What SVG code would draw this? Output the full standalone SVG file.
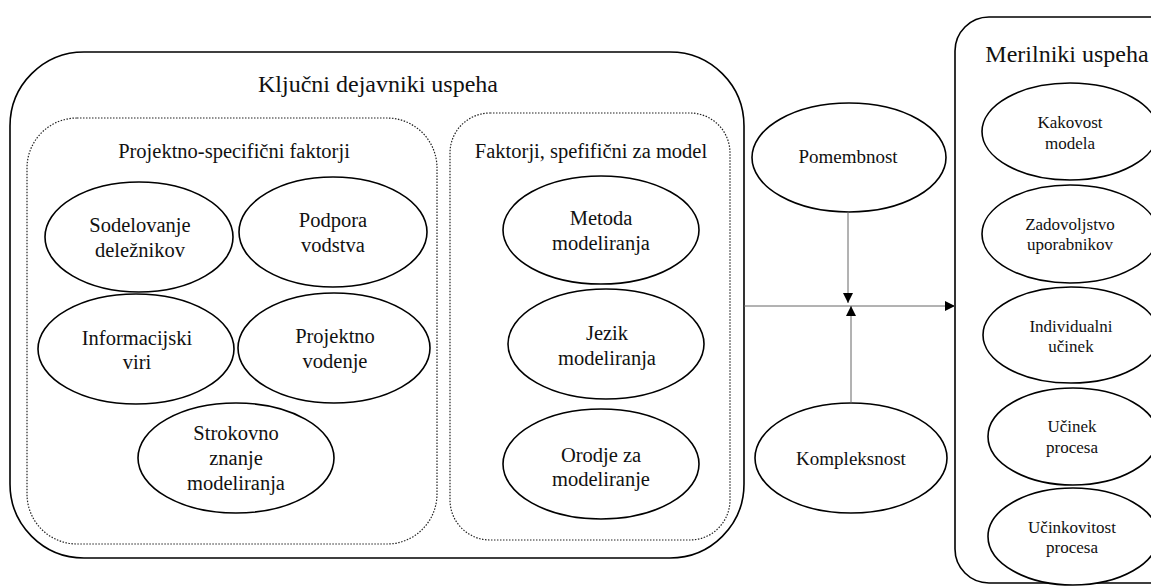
<svg xmlns="http://www.w3.org/2000/svg" width="1151" height="586" viewBox="0 0 1151 586">
  <style>
    .box { fill: none; stroke: #000; stroke-width: 1.6; }
    .dot { fill: none; stroke: #222; stroke-width: 1.2; stroke-dasharray: 1.5 1.5; }
    .el { fill: #fff; stroke: #000; stroke-width: 1.6; }
    text { fill: #111; text-anchor: middle; }
    .t24 { font-size: 24px; }
    .t20 { font-size: 20.5px; }
    .t19 { font-size: 19px; }
    .t17 { font-size: 17px; }
    .conn { fill: none; stroke: #666; stroke-width: 1; }
  </style>
  <defs>
    <marker id="arrow" viewBox="0 0 10 10" refX="10" refY="5" markerWidth="10" markerHeight="10" markerUnits="userSpaceOnUse" orient="auto">
      <path d="M0,0 L10,5 L0,10 Z" fill="#000"/>
    </marker>
  </defs>

  <rect width="1151" height="586" fill="#fff"/>

  <g font-family="Liberation Serif, Times New Roman, serif">
  <!-- critical success factors container -->
  <g id="kljucni-dejavniki">
    <rect class="box" x="10" y="52" width="734" height="506" rx="74" ry="74"/>
    <text class="t24" x="378" y="92">Ključni dejavniki uspeha</text>
  </g>

  <!-- project-specific factors -->
  <g id="projektno-specificni">
    <rect class="dot" x="27" y="118" width="410" height="426" rx="50" ry="50"/>
    <text class="t20" x="234" y="158">Projektno-specifični faktorji</text>
  </g>
  <g id="sodelovanje">
    <ellipse class="el" cx="139" cy="237" rx="94" ry="55"/>
    <text class="t20" x="140" y="232">Sodelovanje</text>
    <text class="t20" x="140" y="257">deležnikov</text>
  </g>
  <g id="podpora">
    <ellipse class="el" cx="333" cy="232" rx="94" ry="55"/>
    <text class="t20" x="333" y="227">Podpora</text>
    <text class="t20" x="333" y="252">vodstva</text>
  </g>
  <g id="informacijski">
    <ellipse class="el" cx="136" cy="349" rx="98" ry="55"/>
    <text class="t20" x="137" y="345">Informacijski</text>
    <text class="t20" x="137" y="369">viri</text>
  </g>
  <g id="projektno-vodenje">
    <ellipse class="el" cx="334" cy="348" rx="96" ry="55"/>
    <text class="t20" x="335" y="343">Projektno</text>
    <text class="t20" x="335" y="368">vodenje</text>
  </g>
  <g id="strokovno">
    <ellipse class="el" cx="236" cy="458" rx="98" ry="55"/>
    <text class="t20" x="236" y="440">Strokovno</text>
    <text class="t20" x="236" y="465">znanje</text>
    <text class="t20" x="236" y="490">modeliranja</text>
  </g>

  <!-- model-specific factors -->
  <g id="specificni-za-model">
    <rect class="dot" x="450" y="113" width="280" height="427" rx="40" ry="40"/>
    <text class="t20" x="591" y="158">Faktorji, spefifični za model</text>
  </g>
  <g id="metoda">
    <ellipse class="el" cx="601" cy="230" rx="98" ry="54"/>
    <text class="t20" x="601" y="225">Metoda</text>
    <text class="t20" x="601" y="250">modeliranja</text>
  </g>
  <g id="jezik">
    <ellipse class="el" cx="606" cy="344" rx="98" ry="55"/>
    <text class="t20" x="607" y="340">Jezik</text>
    <text class="t20" x="607" y="365">modeliranja</text>
  </g>
  <g id="orodje">
    <ellipse class="el" cx="601" cy="464" rx="98" ry="55"/>
    <text class="t20" x="601" y="462">Orodje za</text>
    <text class="t20" x="601" y="486">modeliranje</text>
  </g>

  <!-- moderators -->
  <g id="pomembnost">
    <ellipse class="el" cx="849" cy="157.5" rx="97" ry="54.5"/>
    <text class="t19" x="848" y="163">Pomembnost</text>
  </g>
  <g id="kompleksnost">
    <ellipse class="el" cx="851" cy="458" rx="96" ry="55"/>
    <text class="t19" x="851" y="465">Kompleksnost</text>
  </g>

  <!-- success measures -->
  <g id="merilniki">
    <rect class="box" x="955" y="17" width="230" height="566" rx="34" ry="34"/>
    <text class="t24" x="1067" y="62">Merilniki uspeha</text>
  </g>
  <g id="kakovost">
    <ellipse class="el" cx="1070" cy="131.5" rx="88" ry="48.5"/>
    <text class="t17" x="1070" y="128">Kakovost</text>
    <text class="t17" x="1070" y="149">modela</text>
  </g>
  <g id="zadovoljstvo">
    <ellipse class="el" cx="1070" cy="234" rx="88" ry="49"/>
    <text class="t17" x="1070" y="230">Zadovoljstvo</text>
    <text class="t17" x="1070" y="250">uporabnikov</text>
  </g>
  <g id="individualni">
    <ellipse class="el" cx="1071" cy="335" rx="88" ry="48"/>
    <text class="t17" x="1071" y="332">Individualni</text>
    <text class="t17" x="1071" y="352">učinek</text>
  </g>
  <g id="ucinek-procesa">
    <ellipse class="el" cx="1073" cy="436.5" rx="85" ry="48.5"/>
    <text class="t17" x="1072" y="432">Učinek</text>
    <text class="t17" x="1072" y="453">procesa</text>
  </g>
  <g id="ucinkovitost">
    <ellipse class="el" cx="1073" cy="536.5" rx="85" ry="48.5"/>
    <text class="t17" x="1072" y="533">Učinkovitost</text>
    <text class="t17" x="1072" y="553">procesa</text>
  </g>
  </g>

  <!-- connectors -->
  <g id="connectors">
    <line class="conn" x1="744" y1="306" x2="955" y2="306" marker-end="url(#arrow)"/>
    <line class="conn" x1="848" y1="212" x2="848" y2="303" marker-end="url(#arrow)"/>
    <line class="conn" x1="851" y1="403" x2="851" y2="306" marker-end="url(#arrow)"/>
  </g>
</svg>
